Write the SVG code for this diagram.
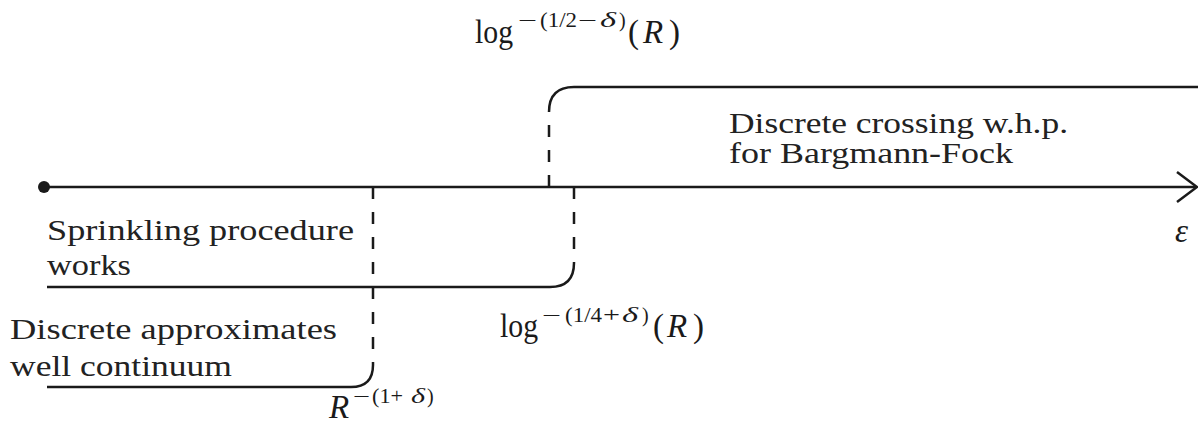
<svg xmlns="http://www.w3.org/2000/svg" width="1198" height="425" viewBox="0 0 1198 425">
  <style>
    .ln { fill: none; stroke: #1a1a1a; stroke-width: 2.5; stroke-linecap: butt; }
    .dash { fill: none; stroke: #1a1a1a; stroke-width: 2.5; stroke-dasharray: 12 13; }
    .body { font-family: 'Liberation Serif', 'Times New Roman', serif; font-size: 29px; fill: #222222; }
    .math { font-family: 'Liberation Serif', 'Times New Roman', serif; font-size: 33px; fill: #1a1a1a; }
    .sup { font-family: 'Liberation Serif', 'Times New Roman', serif; font-size: 20px; fill: #1a1a1a; }
    .it { font-style: italic; }
  </style>
  <rect width="1198" height="425" fill="#ffffff"/>

  <g id="connectors">
    <line class="ln" x1="44" y1="187" x2="1196" y2="187"/>
    <polyline class="ln" points="1177,172 1197,187 1177,202" stroke-linejoin="miter"/>
    <circle cx="44" cy="187" r="6" fill="#1a1a1a"/>
    <line class="dash" x1="549" y1="187" x2="549" y2="112"/>
    <path class="ln" d="M549,112 Q549,87 574,87 H1198"/>
    <line class="dash" x1="574" y1="187" x2="574" y2="263"/>
    <path class="ln" d="M574,263 Q574,287 550,287 H47"/>
    <line class="dash" x1="373" y1="187" x2="373" y2="365"/>
    <path class="ln" d="M373,365 Q373,387 351,387 H47"/>
  </g>

  <g id="node-crossing" class="body">
    <text x="729" y="133" textLength="339" lengthAdjust="spacingAndGlyphs">Discrete crossing w.h.p.</text>
    <text x="729" y="163" textLength="284" lengthAdjust="spacingAndGlyphs">for Bargmann-Fock</text>
  </g>

  <g id="node-sprinkling" class="body">
    <text x="47" y="240" textLength="307" lengthAdjust="spacingAndGlyphs">Sprinkling procedure</text>
    <text x="47" y="275" textLength="84" lengthAdjust="spacingAndGlyphs">works</text>
  </g>

  <g id="node-approx" class="body">
    <text x="10" y="339" textLength="327" lengthAdjust="spacingAndGlyphs">Discrete approximates</text>
    <text x="10" y="376" textLength="222" lengthAdjust="spacingAndGlyphs">well continuum</text>
  </g>

  <g id="label-top">
    <text class="math" x="475" y="43" textLength="38" lengthAdjust="spacingAndGlyphs">log</text>
    <text class="sup" x="518" y="27" textLength="19" lengthAdjust="spacingAndGlyphs">−</text>
    <text class="sup" x="540" y="27" textLength="37" lengthAdjust="spacingAndGlyphs">(1/2</text>
    <text class="sup" x="578" y="27" textLength="19" lengthAdjust="spacingAndGlyphs">−</text>
    <text class="sup it" x="600" y="27" textLength="16" lengthAdjust="spacingAndGlyphs">δ</text>
    <text class="sup" x="619" y="27">)</text>
    <text class="math" x="628" y="43">(</text>
    <text class="math it" x="643" y="43">R</text>
    <text class="math" x="669" y="43">)</text>
  </g>

  <g id="label-mid">
    <text class="math" x="500" y="337" textLength="38" lengthAdjust="spacingAndGlyphs">log</text>
    <text class="sup" x="542" y="322" textLength="19" lengthAdjust="spacingAndGlyphs">−</text>
    <text class="sup" x="565" y="322" textLength="37" lengthAdjust="spacingAndGlyphs">(1/4</text>
    <text class="sup" x="603" y="322" textLength="17" lengthAdjust="spacingAndGlyphs">+</text>
    <text class="sup it" x="622" y="322" textLength="16" lengthAdjust="spacingAndGlyphs">δ</text>
    <text class="sup" x="642" y="322">)</text>
    <text class="math" x="653" y="337">(</text>
    <text class="math it" x="667" y="337">R</text>
    <text class="math" x="693" y="337">)</text>
  </g>

  <g id="label-bottom">
    <text class="math it" x="329" y="418">R</text>
    <text class="sup" x="353" y="403" textLength="17" lengthAdjust="spacingAndGlyphs">−</text>
    <text class="sup" x="372" y="403" textLength="31" lengthAdjust="spacingAndGlyphs">(1+</text>
    <text class="sup it" x="411" y="403" textLength="14" lengthAdjust="spacingAndGlyphs">δ</text>
    <text class="sup" x="427" y="403">)</text>
  </g>

  <g id="label-eps">
    <text class="math it" x="1175" y="242">ε</text>
  </g>
</svg>
